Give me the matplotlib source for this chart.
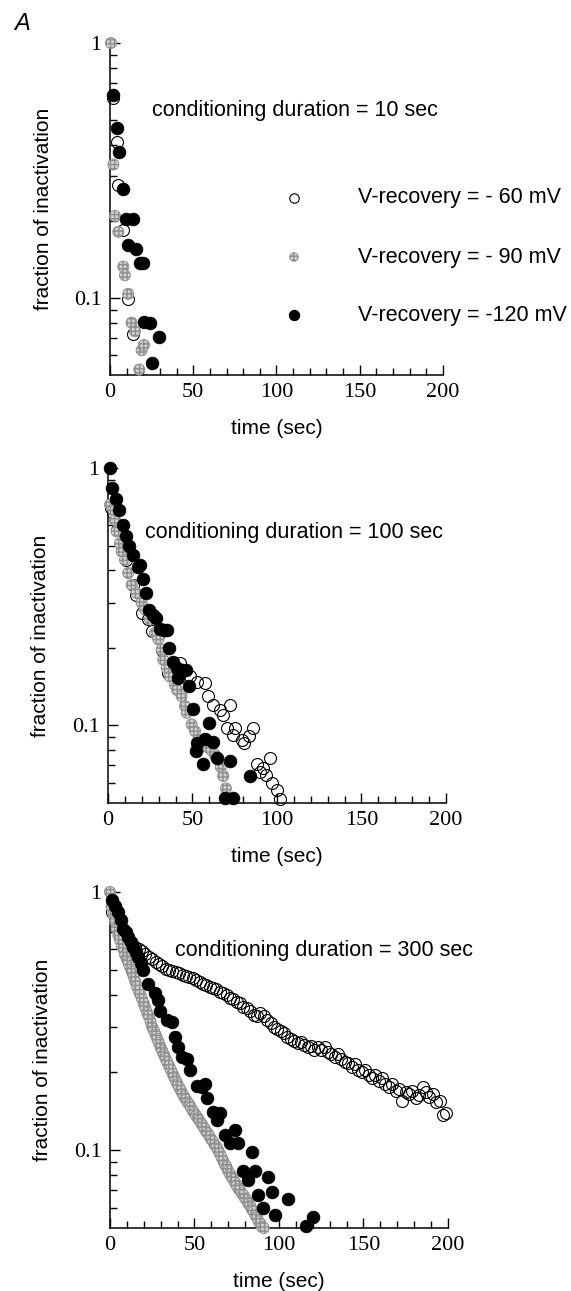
import matplotlib
matplotlib.use("Agg")
import matplotlib.pyplot as plt
from matplotlib.ticker import FixedLocator, NullFormatter, FixedFormatter

# ---------------- data ----------------
# Panel 1: conditioning duration = 10 sec
p1_t_60 = [2, 4, 5, 7.6, 11, 13.6]
p1_f_60 = [0.607, 0.41, 0.277, 0.185, 0.0997, 0.0727]
p1_t_90 = [0.6, 2, 3, 5, 8, 9, 11, 13, 15, 19, 20.4, 17.6]
p1_f_90 = [1.0, 0.334, 0.21, 0.182, 0.133, 0.123, 0.104, 0.0802, 0.0742, 0.0625, 0.0655, 0.0525]
p1_t_120 = [2, 4, 5.6, 8, 9.4, 14, 11, 15.6, 18, 20, 20.6, 24, 29.6, 25.4]
p1_f_120 = [0.625, 0.465, 0.375, 0.269, 0.205, 0.205, 0.162, 0.156, 0.137, 0.137,
            0.0807, 0.0796, 0.0702, 0.0557]

# Panel 2: conditioning duration = 100 sec
p2_t_60 = [1.5, 2.8, 5.1, 8.1, 10.7, 14.6, 16.6, 19.9, 23.9, 25.8, 29.8, 31.8, 35.5, 37.7,
           42.6, 48.5, 52.5, 57.4, 59.4, 62.3, 66.3, 67.8, 72.2, 70.2, 75.1, 85.6, 74.2,
           79.1, 83.6, 80.5, 88, 91.9, 95.8, 89.9, 93.8, 97.3, 100.3, 102]
p2_f_60 = [0.70, 0.667, 0.575, 0.496, 0.44, 0.352, 0.322, 0.273, 0.259, 0.232, 0.225, 0.197,
           0.16, 0.158, 0.175, 0.155, 0.148, 0.146, 0.13, 0.12, 0.115, 0.11, 0.12, 0.098,
           0.098, 0.098, 0.092, 0.088, 0.091, 0.0857, 0.0706, 0.0686, 0.075, 0.066, 0.064,
           0.06, 0.0561, 0.0517]
p2_t_90 = [1.2, 3.1, 4.1, 5.1, 7.1, 8.1, 10.1, 12, 14, 17, 19.9, 21.9, 24.9, 27.8, 29.8,
           31.8, 32.7, 34.7, 36.7, 39.6, 41, 43.6, 45.6, 46.6, 49.5, 51.5, 53.4, 55.4, 57.4,
           59.4, 61.4, 63.3, 66.7, 68.2, 69.8, 70.2]
p2_f_90 = [0.72, 0.688, 0.628, 0.567, 0.51, 0.474, 0.44, 0.391, 0.352, 0.327, 0.3, 0.282,
           0.258, 0.229, 0.216, 0.197, 0.18, 0.167, 0.155, 0.144, 0.137, 0.13, 0.119, 0.112,
           0.101, 0.095, 0.088, 0.085, 0.083, 0.082, 0.08, 0.077, 0.069, 0.0637, 0.057, 0.0525]
p2_t_120 = [1.2, 2.2, 4.7, 6.7, 8.7, 10.7, 12.6, 14.6, 18, 19, 20.5, 22.5, 24.4, 26.8, 28.4,
            30.8, 33.1, 35.1, 36.3, 38.3, 41, 43.6, 46.2, 41.6, 42.6, 48.1, 50.1, 60, 52.5,
            57.4, 62.3, 52, 56.4, 64.3, 72.2, 84, 69.2, 74.2]
p2_f_120 = [1.0, 0.834, 0.758, 0.684, 0.601, 0.542, 0.496, 0.46, 0.414, 0.42, 0.37, 0.327,
            0.28, 0.269, 0.262, 0.237, 0.235, 0.235, 0.2, 0.176, 0.167, 0.164, 0.164, 0.153,
            0.16, 0.142, 0.116, 0.102, 0.0857, 0.0883, 0.086, 0.0795, 0.0706, 0.075, 0.0728,
            0.0637, 0.0525, 0.0525]

# Panel 3: conditioning duration = 300 sec
p3_t_60 = [1, 3, 5, 7, 9, 11, 13, 15, 17, 19, 21, 23, 25, 27, 29, 31, 33, 35, 37, 39, 41, 43,
           45, 47, 49, 51, 53, 55, 57, 59, 61, 63, 65, 67, 69, 71, 73, 75, 77, 79, 81, 83, 85,
           87, 89, 91, 93, 95, 97, 99, 101, 103, 105, 107, 109, 111, 113, 115, 117, 119, 121,
           123, 125, 127, 129, 131, 133, 135, 137, 139, 141, 143, 145, 147, 149, 151, 153,
           155, 157, 159, 161, 163, 165, 167, 169, 171, 173, 175, 177, 179, 181, 183, 185,
           187, 189, 191, 193, 195, 197, 199]
p3_f_60 = [0.84, 0.78, 0.74, 0.70, 0.67, 0.65, 0.63, 0.61, 0.60, 0.59, 0.575, 0.56, 0.55,
           0.535, 0.525, 0.515, 0.505, 0.50, 0.495, 0.49, 0.485, 0.478, 0.472, 0.47, 0.465,
           0.455, 0.45, 0.44, 0.435, 0.43, 0.425, 0.42, 0.41, 0.405, 0.40, 0.39, 0.385, 0.375,
           0.37, 0.36, 0.355, 0.345, 0.335, 0.33, 0.34, 0.33, 0.32, 0.31, 0.30, 0.295, 0.29,
           0.285, 0.275, 0.27, 0.265, 0.26, 0.262, 0.255, 0.25, 0.253, 0.245, 0.25, 0.244,
           0.25, 0.24, 0.235, 0.23, 0.235, 0.225, 0.22, 0.218, 0.21, 0.215, 0.205, 0.2, 0.205,
           0.195, 0.19, 0.195, 0.185, 0.19, 0.18, 0.175, 0.18, 0.17, 0.172, 0.155, 0.168,
           0.165, 0.17, 0.16, 0.163, 0.176, 0.168, 0.161, 0.165, 0.154, 0.155, 0.137, 0.139]
p3_t_90 = [0, 1, 2, 3, 4, 5, 6, 7, 8, 9, 10, 11, 12, 13, 14, 15, 16, 17, 18, 19, 20, 21, 22,
           23, 24, 25, 26, 27, 28, 29, 30, 31, 32, 33, 34, 35, 36, 37, 38, 39, 40, 41, 42, 43,
           44, 45, 46, 47, 48, 49, 50, 51, 52, 53, 54, 55, 56, 57, 58, 59, 60, 61, 62, 63, 64,
           65, 66, 67, 68, 69, 70, 71, 72, 73, 74, 75, 76, 77, 78, 79, 80, 81, 82, 83, 84, 85,
           86, 87, 88, 89, 90, 91]
p3_f_90 = [1.0, 0.88, 0.82, 0.77, 0.72, 0.68, 0.65, 0.62, 0.60, 0.57, 0.55, 0.53, 0.51,
           0.49, 0.47, 0.45, 0.43, 0.415, 0.40, 0.385, 0.37, 0.355, 0.34, 0.33, 0.315, 0.30,
           0.29, 0.28, 0.27, 0.26, 0.25, 0.242, 0.234, 0.226, 0.219, 0.212, 0.205, 0.198,
           0.192, 0.186, 0.180, 0.175, 0.170, 0.165, 0.161, 0.157, 0.153, 0.150, 0.146, 0.142,
           0.139, 0.136, 0.133, 0.130, 0.127, 0.124, 0.121, 0.118, 0.116, 0.113, 0.110, 0.108,
           0.105, 0.103, 0.100, 0.097, 0.094, 0.091, 0.088, 0.086, 0.083, 0.081, 0.079, 0.077,
           0.075, 0.073, 0.071, 0.070, 0.068, 0.067, 0.065, 0.064, 0.062, 0.061, 0.059, 0.058,
           0.056, 0.055, 0.053, 0.052, 0.0505, 0.05]
p3_t_120 = [1, 3, 4.9, 6.5, 7.9, 9.4, 10.8, 12.3, 13.8, 15.3, 16.8, 18.2, 19.7, 22.7, 26.6,
            28.6, 29.6, 33.5, 36.5, 38.5, 40.4, 42.4, 45.4, 47.3, 51.3, 54.3, 56.2, 57.2,
            61.1, 65.1, 63.1, 68, 74, 71, 75.9, 83.8, 78.9, 81.8, 85.8, 93.7, 87.8, 90.7,
            95.7, 97.6, 105.5, 116, 120]
p3_f_120 = [0.93, 0.88, 0.84, 0.78, 0.72, 0.70, 0.67, 0.64, 0.61, 0.585, 0.56, 0.53, 0.5,
            0.44, 0.405, 0.38, 0.345, 0.32, 0.315, 0.275, 0.25, 0.23, 0.225, 0.204, 0.178,
            0.176, 0.18, 0.16, 0.141, 0.139, 0.131, 0.115, 0.12, 0.107, 0.107, 0.0986, 0.083,
            0.077, 0.083, 0.0785, 0.067, 0.06, 0.0687, 0.056, 0.065, 0.051, 0.055]

panel_titles = ["conditioning duration = 10 sec",
                "conditioning duration = 100 sec",
                "conditioning duration = 300 sec"]
legend_labels = ["V-recovery = - 60 mV", "V-recovery = - 90 mV", "V-recovery = -120 mV"]
x_ticks = [0, 50, 100, 150, 200]
y_ticks = [0.1, 1]
y_tick_labels = ["0.1", "1"]

# ---------------- style ----------------
SANS = ["Liberation Sans", "DejaVu Sans"]
SERIF = ["Liberation Serif", "DejaVu Serif"]
GRAY_FC = "#d2d2d2"
GRAY_EC = "#8e8e8e"
TEXT_FS = 15.5
LABEL_FS = 15

fig = plt.figure(figsize=(5.71, 12.91), dpi=100)

rects = [[0.1926, 0.7095, 0.5832, 0.2572],
         [0.1891, 0.3780, 0.5919, 0.2595],
         [0.1926, 0.0488, 0.5919, 0.2603]]
title_pos = [(25, 0.546), (22, 0.56), (38.5, 0.596)]

data = [
    (p1_t_60, p1_f_60, p1_t_90, p1_f_90, p1_t_120, p1_f_120),
    (p2_t_60, p2_f_60, p2_t_90, p2_f_90, p2_t_120, p2_f_120),
    (p3_t_60, p3_f_60, p3_t_90, p3_f_90, p3_t_120, p3_f_120),
]


def gray_marks(ax, x, y, s, **kw):
    ax.scatter(x, y, s=s, marker="o", facecolor=GRAY_FC, edgecolor=GRAY_EC,
               linewidths=0.6, hatch="++++", **kw)


for i, (rect, d) in enumerate(zip(rects, data)):
    ax = fig.add_axes(rect)
    t60, f60, t90, f90, t120, f120 = d
    ax.plot(t60, f60, linestyle="none", marker="o", ms=8.6, mfc="none", mec="black",
            mew=0.8, clip_on=False, zorder=3)
    gray_marks(ax, t90, f90, 8.0 ** 2, clip_on=False, zorder=4)
    ax.plot(t120, f120, linestyle="none", marker="o", ms=9.2, mfc="black", mec="black",
            mew=0.5, clip_on=False, zorder=5)

    ax.set_yscale("log")
    ax.set_xlim(0, 200)
    ax.set_ylim(0.05, 1)
    ax.spines["top"].set_visible(False)
    ax.spines["right"].set_visible(False)
    for s in ("left", "bottom"):
        ax.spines[s].set_linewidth(1.1)

    ax.xaxis.set_major_locator(FixedLocator(x_ticks))
    ax.xaxis.set_minor_locator(FixedLocator(list(range(0, 201, 10))))
    ax.yaxis.set_major_locator(FixedLocator(y_ticks))
    ax.yaxis.set_major_formatter(FixedFormatter(y_tick_labels))
    ax.yaxis.set_minor_locator(FixedLocator([0.06, 0.07, 0.08, 0.09, 0.2, 0.3, 0.4, 0.5,
                                             0.6, 0.7, 0.8, 0.9]))
    ax.yaxis.set_minor_formatter(NullFormatter())
    ax.tick_params(which="major", direction="in", length=7.5, width=1.0, pad=6,
                   labelsize=16)
    ax.tick_params(which="minor", direction="in", length=5, width=1.0)
    for lab in ax.get_xticklabels() + ax.get_yticklabels():
        lab.set_family(SERIF)

    ax.set_xlabel("time (sec)", family=SANS, fontsize=LABEL_FS)
    ax.set_ylabel("fraction of inactivation", family=SANS, fontsize=LABEL_FS)
    ax.xaxis.set_label_coords(0.5, -0.132)
    ax.yaxis.set_label_coords(-0.172, 0.5)

    tx, ty = title_pos[i]
    ax.text(tx, ty, panel_titles[i], family=SANS, fontsize=TEXT_FS, ha="left",
            va="center")

    if i == 0:
        lx = 110.5
        ly = [0.247, 0.145, 0.0858]
        tx_leg = 149
        ax.plot([lx], [ly[0]], linestyle="none", marker="o", ms=6.8, mfc="none",
                mec="black", mew=0.8)
        gray_marks(ax, [lx], [ly[1]], 6.2 ** 2, zorder=4)
        ax.plot([lx], [ly[2]], linestyle="none", marker="o", ms=7.2, mfc="black",
                mec="black")
        for yy, lab in zip(ly, legend_labels):
            ax.text(tx_leg, yy, lab, family=SANS, fontsize=TEXT_FS, ha="left",
                    va="center")

fig.text(22 / 571, 1 - 23 / 1291, "A", family=SANS, fontsize=17, style="italic",
         ha="center", va="center")

fig.savefig("out.png", dpi=100)
